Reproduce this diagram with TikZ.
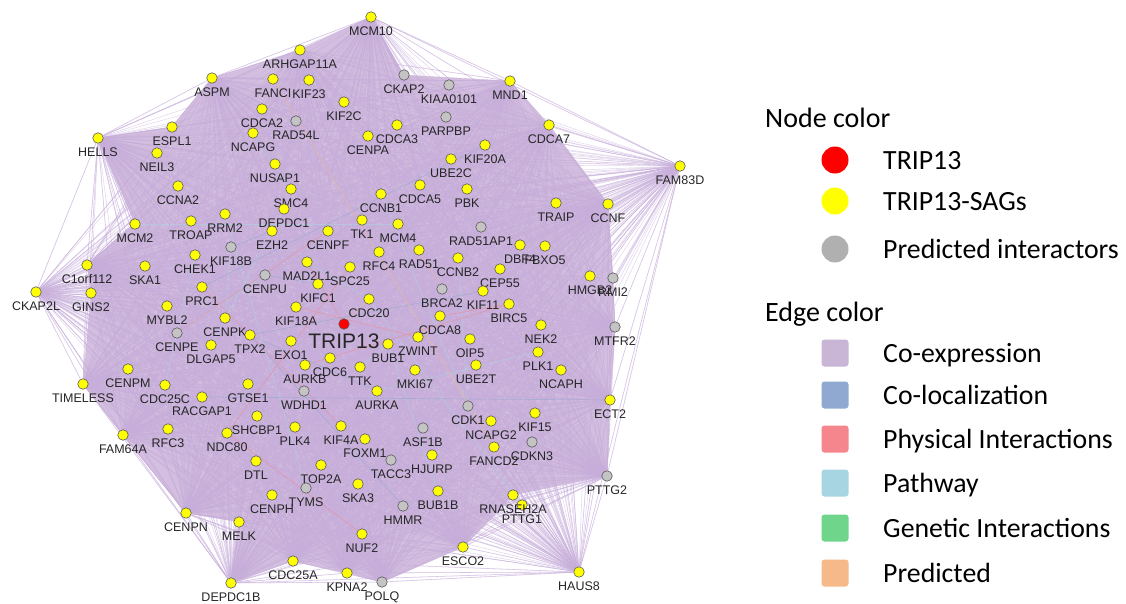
\documentclass[tikz,border=0pt]{standalone}
\usepackage{fontspec}
\setmainfont{Liberation Sans}
\newfontfamily\legendfont{Carlito}
\usetikzlibrary{backgrounds}

\definecolor{sagyellow}{HTML}{FFFF00}
\definecolor{tripred}{HTML}{FF0000}
\definecolor{predgray}{HTML}{C4C4C4}
\definecolor{coexpfill}{HTML}{D4BFE0}
\definecolor{coexpline}{HTML}{C7AEDA}
\definecolor{coexp}{HTML}{C9B6D6}
\definecolor{coloc}{HTML}{8FA9D0}
\definecolor{physical}{HTML}{F5868E}
\definecolor{pathway}{HTML}{A8D5E2}
\definecolor{genetic}{HTML}{6ED58A}
\definecolor{predicted}{HTML}{F5B98A}

% yellow nodes: name/x/y
\def\sagnodes{MCM10/371/17, ARHGAP11A/300/50, ASPM/212/78, FANCI/273/79,
  KIF23/309/80, KIF2C/344/102, MND1/510/81, CDCA2/262/109, NCAPG/253/133,
  ESPL1/172/127, HELLS/98/138, NEIL3/157/153, NUSAP1/275/164, CENPA/368/136,
  CDCA3/397/125, CDCA7/549/125, KIF20A/485/145, UBE2C/451/159, FAM83D/680/166,
  CDCA5/420/185, PBK/467/189, CCNB1/381/194, CCNA2/178/186, SMC4/291/189,
  DEPDC1/284/209, MCM2/135/224, TROAP/191/221, RRM2/225/214, EZH2/272/231,
  CENPF/328/231, TK1/362/220, MCM4/398/224, TRAIP/556/203, CCNF/608/204,
  CHEK1/195/255, C1orf112/87/265, SKA1/145/266, MAD2L1/307/262, SPC25/350/267,
  RFC4/379/252, RAD51/419/250, CCNB2/458/258, DBF4/520/245, FBXO5/545/246,
  CEP55/500/269, HMGB2/590/276, KIFC1/318/284, CDC20/369/299, CKAP2L/36/292,
  GINS2/91/293, PRC1/202/287, MYBL2/167/306, KIF18A/296/307, KIF11/483/291,
  BIRC5/509/304, CDCA8/440/316, NEK2/541/325, CENPK/225/318, TPX2/250/335,
  DLGAP5/211/345, EXO1/291/341, BUB1/388/344, ZWINT/418/337, OIP5/470/339,
  PLK1/538/352, AURKB/305/365, CDC6/330/358, TTK/360/367, UBE2T/476/365,
  MKI67/415/370, NCAPH/561/370, CENPM/128/369, TIMELESS/83/384, CDC25C/165/385,
  RACGAP1/202/397, GTSE1/248/384, AURKA/377/391, ECT2/610/400, NCAPG2/491/421,
  KIF15/535/413, FAM64A/123/435, RFC3/168/429, SHCBP1/257/416, NDC80/227/433,
  PLK4/295/427, KIF4A/341/426, FOXM1/365/439, HJURP/432/455, FANCD2/494/447,
  DTL/256/461, TOP2A/321/465, SKA3/358/484, CENPH/272/495, BUB1B/438/491,
  PTTG1/522/505, RNASEH2A/513/495, CENPN/186/513, MELK/239/522, NUF2/362/534,
  ESCO2/463/547, CDC25A/293/561, KPNA2/347/573, HAUS8/579/572, DEPDC1B/231/583}
% gray nodes: name/x/y
\def\prednodes{RAD54L/296/121, CKAP2/404/75, KIAA0101/449/85, PARPBP/446/117,
  RAD51AP1/481/227, KIF18B/231/247, CENPU/265/275, BRCA2/442/289, RMI2/613/278,
  MTFR2/615/327, CENPE/177/333, WDHD1/304/391, CDK1/468/406, ASF1B/423/428,
  CDKN3/532/442, TACC3/391/460, PTTG2/607/476, TYMS/306/488, HMMR/403/506,
  POLQ/382/582}

\begin{document}
\begin{tikzpicture}[x=1pt,y=-1pt,
  gene/.style={circle,minimum size=10.5pt,inner sep=0pt,draw=black!65,line width=0.6pt},
  sag/.style={gene,fill=sagyellow},
  pred/.style={gene,fill=predgray},
  lbl/.style={font=\fontsize{12.5}{12.5}\selectfont,text=black!85,inner sep=0pt,
    text height=9pt,text depth=0pt},
  label distance=4pt,
  fan/.style={draw=coexpline,line width=0.55pt,opacity=0.5},
  link/.style={line width=0.7pt,opacity=0.55},
  head/.style={font=\legendfont\fontsize{28}{28}\selectfont,anchor=west,inner sep=0pt,
    text height=18pt,text depth=0pt},
  item/.style={font=\legendfont\fontsize{27.8}{28}\selectfont,anchor=west,inner sep=0pt,
    text height=18pt,text depth=0pt},
  dot/.style={circle,minimum size=27pt,inner sep=0pt},
  swatch/.style={rounded corners=3pt,minimum size=27pt,inner sep=0pt}]

\useasboundingbox (0,0) rectangle (1126,603);

% network nodes
\foreach \n/\x/\y in \sagnodes
    \node[sag,label={[lbl]below:\n}] (\n) at (\x,\y) {};
\foreach \n/\x/\y in \prednodes
    \node[pred,label={[lbl]below:\n}] (\n) at (\x,\y) {};
\node[gene,fill=tripred,label={[lbl,font=\fontsize{21}{21}\selectfont,text height=15pt]below:TRIP13}]
    (TRIP13) at (344,324) {};

\begin{scope}[on background layer]
% dense co-expression core
\fill[coexpfill] (ASPM.center) -- (ARHGAP11A.center) -- (MCM10.center) -- (CKAP2.center)
    -- (MND1.center) -- (CDCA7.center) -- (CCNF.center) -- (RMI2.center) -- (MTFR2.center)
    -- (ECT2.center) -- (PTTG2.center) -- (RNASEH2A.center) -- (ESCO2.center) -- (POLQ.center)
    -- (KPNA2.center) -- (CDC25A.center) -- (DEPDC1B.center) -- (MELK.center) -- (CENPN.center)
    -- (FAM64A.center) -- (TIMELESS.center) -- (GINS2.center) -- (C1orf112.center)
    -- (MCM2.center) -- (HELLS.center) -- (ESPL1.center) -- cycle;

% fans of the outer nodes
\foreach \a in {MCM10,ARHGAP11A,ASPM,HELLS,CKAP2L,C1orf112,TIMELESS,FAM64A,CENPN,
    DEPDC1B,CDC25A,KPNA2,POLQ,ESCO2,HAUS8,PTTG2,ECT2,MTFR2,FAM83D,CCNF,CDCA7,MND1}{
  \foreach \b/\p/\q in \sagnodes{\ifx\a\b\else\draw[fan] (\a) -- (\b);\fi}
  \foreach \b/\p/\q in \prednodes{\ifx\a\b\else\draw[fan] (\a) -- (\b);\fi}
  \draw[fan] (\a) -- (TRIP13);
}

% other interaction types
\foreach \a/\b in {CDK1/CCNB1,CDK1/CCNB2,BUB1/BUB1B,PLK1/AURKA,KIF18B/CENPK,
    MAD2L1/CDC20,TTK/BUB1,PTTG1/CDC20,CHEK1/CDC25C,SMC4/NCAPG,CENPU/CENPE,
    DEPDC1/DLGAP5,MCM2/MCM4,RRM2/TYMS}
  \draw[link,pathway] (\a) -- (\b);
\foreach \a/\b in {NDC80/NUF2,KIF4A/PRC1,CDCA8/BIRC5,AURKB/BIRC5,ZWINT/KIF18A,
    TRIP13/MAD2L1,SPC25/NDC80,CENPF/CENPE}
  \draw[link,physical] (\a) -- (\b);
\foreach \a/\b in {KIF18B/EZH2,CENPU/KIFC1,TPX2/AURKA,KIF11/TPX2,HMMR/TPX2,
    KIF20A/PRC1,RACGAP1/ECT2}
  \draw[link,coloc] (\a) -- (\b);
\foreach \a/\b in {TRIP13/CDC20,RAD51/BRCA2,FANCI/FANCD2}
  \draw[link,predicted] (\a) -- (\b);
\end{scope}

% legend
\node[head] (nodehead) at (765,118) {Node color};
\node[dot,fill=tripred] (keytrip) at (835,160) {};
\node[item] (txttrip) at (883,160) {TRIP13};
\node[dot,fill=sagyellow] (keysag) at (835,201) {};
\node[item] (txtsag) at (883,201) {TRIP13-SAGs};
\node[dot,fill=predgray!90!black] (keypred) at (835,249) {};
\node[item] (txtpred) at (883,249) {Predicted interactors};

\node[head] (edgehead) at (765,312) {Edge color};
\foreach \c/\t/\y [count=\i] in {coexp/Co-expression/353, coloc/Co-localization/395,
    physical/Physical Interactions/439, pathway/Pathway/483,
    genetic/Genetic Interactions/528, predicted/Predicted/573}{
  \node[swatch,fill=\c] (key\i) at (835,\y) {};
  \node[item] (txt\i) at (883,\y) {\t};
}

\end{tikzpicture}
\end{document}
